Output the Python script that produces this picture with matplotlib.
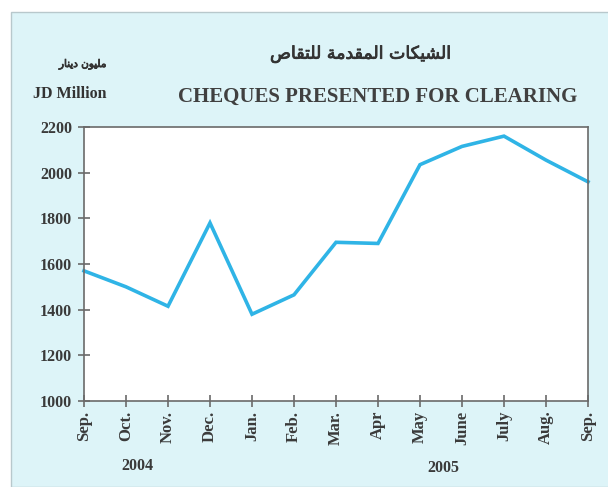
import matplotlib
matplotlib.use("Agg")
import matplotlib.pyplot as plt
import matplotlib.patheffects as pe
from matplotlib.patches import Rectangle

# data (JD million)
months = ["Sep.", "Oct.", "Nov.", "Dec.", "Jan.", "Feb.", "Mar.", "Apr", "May", "June", "July", "Aug.", "Sep."]
values = [1570, 1500, 1415, 1780, 1380, 1465, 1695, 1690, 2035, 2115, 2160, 2055, 1960]
yticks = [1000, 1200, 1400, 1600, 1800, 2000, 2200]
years = ["2004", "2005"]

# arabic text, pre-shaped with presentation forms (matplotlib does no shaping / RTL)
title_ar = "\uFE8D\uFEDF\uFEB8\uFEF4\uFEDC\uFE8E\uFE95 \uFE8D\uFEDF\uFEE4\uFED8\uFEAA\uFEE3\uFE94 \uFEDF\uFEE0\uFE98\uFED8\uFE8E\uFEB9"[::-1]
unit_ar = "\uFEE3\uFEE0\uFEF4\uFEEE\uFEE5 \uFEA9\uFEF3\uFEE8\uFE8E\uFEAD"[::-1]

serif = "Liberation Serif"
txt = "#3a3a3a"
bolden = [pe.withStroke(linewidth=0.6, foreground="#333333")]

fig = plt.figure(figsize=(6.08, 4.87), dpi=100)
fig.patch.set_facecolor("white")

# light cyan panel behind everything
fig.patches.append(Rectangle((11 / 608, 0), 1, 1 - 12 / 487, transform=fig.transFigure,
                             facecolor="#ddf4f8", edgecolor="#b8c8cc", linewidth=1.0, zorder=-10))

ax = fig.add_axes([84 / 608, 1 - 401 / 487, (588 - 84) / 608, (401 - 127) / 487])
ax.set_facecolor("white")

x = list(range(len(months)))
ax.plot(x, values, color="#2fb4e6", linewidth=2.6, solid_joinstyle="miter", clip_on=False)

ax.set_xlim(0, len(months) - 1)
ax.set_ylim(1000, 2200)
ax.set_yticks(yticks)
ax.set_yticklabels([str(v) for v in yticks], fontfamily=serif, fontweight="bold", fontsize=11.5, color=txt)
ax.set_xticks(x)
ax.set_xticklabels(months, rotation=90, fontfamily=serif, fontweight="bold", fontsize=12, color=txt)

for s in ax.spines.values():
    s.set_color("#6a6a6a")
    s.set_linewidth(1.2)
ax.tick_params(axis="y", direction="inout", length=9, width=1.2, color="#6a6a6a", pad=4)
ax.tick_params(axis="x", direction="inout", length=8, width=1.2, color="#6a6a6a", pad=3)

# titles and unit labels
fig.text(361 / 608, 1 - 54 / 487, title_ar, ha="center", va="center", fontsize=12.5,
         family=["DejaVu Sans"], color="#333333", path_effects=bolden)
fig.text(378 / 608, 1 - 97 / 487, "CHEQUES PRESENTED FOR CLEARING", ha="center", va="center",
         fontsize=15, fontfamily=serif, fontweight="bold", color="#404040")
fig.text(106 / 608, 1 - 64 / 487, unit_ar, ha="right", va="center", fontsize=7.5,
         family=["DejaVu Sans"], color="#333333", path_effects=bolden)
fig.text(70 / 608, 1 - 94 / 487, "JD Million", ha="center", va="center",
         fontsize=11.5, fontfamily=serif, fontweight="bold", color="#333333")

# year labels under the month ticks
fig.text(137 / 608, 1 - 466 / 487, years[0], ha="center", va="center",
         fontsize=11.5, fontfamily=serif, fontweight="bold", color=txt)
fig.text(443 / 608, 1 - 468 / 487, years[1], ha="center", va="center",
         fontsize=11.5, fontfamily=serif, fontweight="bold", color=txt)

fig.savefig("out.png", dpi=100)
